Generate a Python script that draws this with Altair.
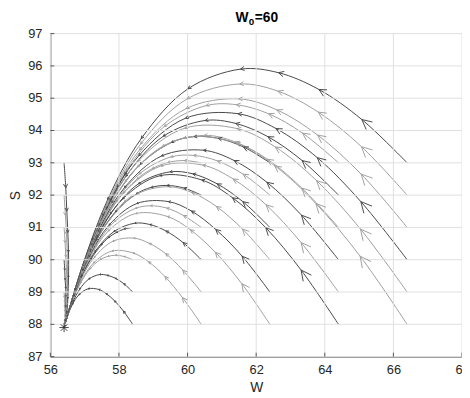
import math
import altair as alt
import pandas as pd

# sampling instants along each trajectory (1 = start, 0 = equilibrium)
phase = [1.0, 0.9, 0.8, 0.7, 0.6, 0.45, 0.3, 0.18, 0.08, 0.0]

# trajectories starting at W0 = 58.4 (S0 = 88 ... 93)
w_58 = [
    [58.4, 58.13, 57.87, 57.63, 57.41, 57.10, 56.83, 56.64, 56.50, 56.4],
    [58.4, 58.14, 57.89, 57.65, 57.43, 57.12, 56.85, 56.66, 56.51, 56.4],
    [58.4, 58.15, 57.90, 57.67, 57.45, 57.15, 56.87, 56.67, 56.52, 56.4],
    [58.4, 58.15, 57.92, 57.69, 57.48, 57.18, 56.89, 56.69, 56.52, 56.4],
    [58.4, 58.16, 57.94, 57.72, 57.50, 57.20, 56.92, 56.70, 56.53, 56.4],
    [58.4, 58.17, 57.95, 57.74, 57.53, 57.23, 56.94, 56.72, 56.54, 56.4],
]
s_58 = [
    [88.0, 88.41, 88.73, 88.95, 89.08, 89.10, 88.91, 88.61, 88.25, 87.9],
    [89.0, 89.26, 89.43, 89.52, 89.54, 89.40, 89.08, 88.70, 88.29, 87.9],
    [90.0, 90.10, 90.14, 90.10, 90.00, 89.71, 89.26, 88.79, 88.32, 87.9],
    [91.0, 90.95, 90.84, 90.68, 90.45, 90.01, 89.44, 88.88, 88.36, 87.9],
    [92.0, 91.80, 91.55, 91.25, 90.91, 90.31, 89.61, 88.98, 88.40, 87.9],
    [93.0, 92.64, 92.25, 91.83, 91.37, 90.62, 89.79, 89.07, 88.43, 87.9],
]
shade_58 = ["D", "D", "L", "D", "L", "D"]

# W0 = 60.4
w_60 = [
    [60.4, 59.85, 59.34, 58.86, 58.41, 57.80, 57.26, 56.88, 56.60, 56.4],
    [60.4, 59.86, 59.36, 58.88, 58.43, 57.82, 57.28, 56.89, 56.61, 56.4],
    [60.4, 59.87, 59.37, 58.90, 58.46, 57.85, 57.30, 56.91, 56.62, 56.4],
    [60.4, 59.88, 59.39, 58.92, 58.48, 57.87, 57.32, 56.92, 56.62, 56.4],
    [60.4, 59.89, 59.40, 58.94, 58.51, 57.90, 57.34, 56.94, 56.63, 56.4],
    [60.4, 59.90, 59.42, 58.97, 58.53, 57.92, 57.37, 56.95, 56.64, 56.4],
]
s_60 = [
    [88.0, 88.83, 89.48, 89.94, 90.21, 90.27, 89.90, 89.30, 88.60, 87.9],
    [89.0, 89.68, 90.19, 90.51, 90.67, 90.57, 90.07, 89.39, 88.63, 87.9],
    [90.0, 90.53, 90.89, 91.09, 91.13, 90.87, 90.25, 89.49, 88.67, 87.9],
    [91.0, 91.37, 91.60, 91.67, 91.59, 91.18, 90.43, 89.58, 88.71, 87.9],
    [92.0, 92.22, 92.30, 92.24, 92.04, 91.48, 90.60, 89.67, 88.74, 87.9],
    [93.0, 93.07, 93.01, 92.82, 92.50, 91.79, 90.78, 89.77, 88.78, 87.9],
]
shade_60 = ["L", "L", "D", "L", "D", "L"]

# W0 = 62.4
w_62 = [
    [62.4, 61.58, 60.81, 60.08, 59.41, 58.49, 57.69, 57.12, 56.70, 56.4],
    [62.4, 61.59, 60.82, 60.11, 59.44, 58.52, 57.71, 57.13, 56.71, 56.4],
    [62.4, 61.60, 60.84, 60.13, 59.46, 58.54, 57.73, 57.15, 56.71, 56.4],
    [62.4, 61.61, 60.86, 60.15, 59.49, 58.57, 57.75, 57.16, 56.72, 56.4],
    [62.4, 61.62, 60.87, 60.17, 59.51, 58.59, 57.77, 57.18, 56.73, 56.4],
    [62.4, 61.63, 60.89, 60.19, 59.53, 58.62, 57.79, 57.19, 56.74, 56.4],
]
s_62 = [
    [88.0, 89.26, 90.23, 90.93, 91.34, 91.43, 90.89, 90.00, 88.95, 87.9],
    [89.0, 90.11, 90.94, 91.51, 91.80, 91.74, 91.07, 90.09, 88.98, 87.9],
    [90.0, 90.95, 91.65, 92.08, 92.26, 92.04, 91.24, 90.18, 89.02, 87.9],
    [91.0, 91.80, 92.35, 92.66, 92.72, 92.35, 91.42, 90.28, 89.05, 87.9],
    [92.0, 92.65, 93.06, 93.23, 93.18, 92.65, 91.59, 90.37, 89.09, 87.9],
    [93.0, 93.49, 93.76, 93.81, 93.63, 92.95, 91.77, 90.46, 89.13, 87.9],
]
shade_62 = ["L", "D", "L", "D", "L", "D"]

# W0 = 64.4
w_64 = [
    [64.4, 63.31, 62.28, 61.31, 60.41, 59.19, 58.11, 57.36, 56.80, 56.4],
    [64.4, 63.31, 62.29, 61.33, 60.44, 59.22, 58.13, 57.37, 56.81, 56.4],
    [64.4, 63.32, 62.31, 61.36, 60.46, 59.24, 58.16, 57.39, 56.81, 56.4],
    [64.4, 63.33, 62.33, 61.38, 60.49, 59.27, 58.18, 57.40, 56.82, 56.4],
    [64.4, 63.34, 62.34, 61.40, 60.51, 59.29, 58.20, 57.42, 56.83, 56.4],
    [64.4, 63.35, 62.36, 61.42, 60.54, 59.32, 58.22, 57.43, 56.84, 56.4],
]
s_64 = [
    [88.0, 89.68, 90.99, 91.92, 92.47, 92.60, 91.88, 90.69, 89.29, 87.9],
    [89.0, 90.53, 91.70, 92.50, 92.93, 92.90, 92.06, 90.79, 89.33, 87.9],
    [90.0, 91.38, 92.40, 93.07, 93.39, 93.21, 92.23, 90.88, 89.37, 87.9],
    [91.0, 92.22, 93.11, 93.65, 93.85, 93.51, 92.41, 90.97, 89.40, 87.9],
    [92.0, 93.07, 93.81, 94.22, 94.31, 93.82, 92.58, 91.07, 89.44, 87.9],
    [93.0, 93.92, 94.52, 94.80, 94.77, 94.12, 92.76, 91.16, 89.48, 87.9],
]
shade_64 = ["D", "L", "D", "L", "D", "L"]

# W0 = 66.4
w_66 = [
    [66.4, 65.03, 63.74, 62.54, 61.42, 59.89, 58.54, 57.60, 56.90, 56.4],
    [66.4, 65.04, 63.76, 62.56, 61.44, 59.91, 58.56, 57.61, 56.91, 56.4],
    [66.4, 65.05, 63.78, 62.58, 61.47, 59.94, 58.58, 57.63, 56.91, 56.4],
    [66.4, 65.06, 63.79, 62.60, 61.49, 59.96, 58.60, 57.64, 56.92, 56.4],
    [66.4, 65.07, 63.81, 62.63, 61.52, 59.99, 58.63, 57.66, 56.93, 56.4],
    [66.4, 65.08, 63.83, 62.65, 61.54, 60.01, 58.65, 57.67, 56.94, 56.4],
]
s_66 = [
    [88.0, 90.11, 91.74, 92.91, 93.61, 93.77, 92.87, 91.39, 89.64, 87.9],
    [89.0, 90.95, 92.45, 93.49, 94.06, 94.07, 93.05, 91.48, 89.68, 87.9],
    [90.0, 91.80, 93.16, 94.06, 94.52, 94.38, 93.22, 91.58, 89.71, 87.9],
    [91.0, 92.65, 93.86, 94.64, 94.98, 94.68, 93.40, 91.67, 89.75, 87.9],
    [92.0, 93.50, 94.57, 95.22, 95.44, 94.98, 93.58, 91.76, 89.79, 87.9],
    [93.0, 94.34, 95.27, 95.79, 95.90, 95.29, 93.75, 91.86, 89.82, 87.9],
]
shade_66 = ["L", "L", "D", "L", "L", "D"]

# W0 = 56.4 (nearly vertical descents)
w_56 = [
    [56.4, 56.41, 56.42, 56.42, 56.43, 56.43, 56.42, 56.42, 56.41, 56.4],
    [56.4, 56.42, 56.43, 56.45, 56.45, 56.45, 56.45, 56.43, 56.42, 56.4],
    [56.4, 56.43, 56.45, 56.47, 56.48, 56.48, 56.47, 56.45, 56.42, 56.4],
    [56.4, 56.44, 56.47, 56.49, 56.50, 56.50, 56.49, 56.46, 56.43, 56.4],
    [56.4, 56.45, 56.48, 56.51, 56.53, 56.53, 56.51, 56.48, 56.44, 56.4],
]
s_56 = [
    [89.0, 88.83, 88.68, 88.53, 88.40, 88.23, 88.09, 88.00, 87.94, 87.9],
    [90.0, 89.68, 89.38, 89.11, 88.86, 88.54, 88.27, 88.10, 87.98, 87.9],
    [91.0, 90.53, 90.09, 89.69, 89.32, 88.84, 88.45, 88.19, 88.01, 87.9],
    [92.0, 91.37, 90.79, 90.26, 89.78, 89.15, 88.62, 88.28, 88.05, 87.9],
    [93.0, 92.22, 91.50, 90.84, 90.24, 89.45, 88.80, 88.37, 88.09, 87.9],
]
shade_56 = ["L", "D", "L", "L", "D"]

eq_W = [56.4]
eq_S = [87.9]
x_ticks = [56, 58, 60, 62, 64, 66, 68]
y_ticks = [87, 88, 89, 90, 91, 92, 93, 94, 95, 96, 97]
title_main, title_sub, title_rest = ["W"], ["0"], ["=60"]

PLOT_W, PLOT_H = 418, 328
KX = PLOT_W / 12.0
KY = PLOT_H / 10.0

all_W = w_58 + w_60 + w_62 + w_64 + w_66 + w_56
all_S = s_58 + s_60 + s_62 + s_64 + s_66 + s_56
all_shade = shade_58 + shade_60 + shade_62 + shade_64 + shade_66 + shade_56

line_rows, arrow_rows = [], []
for i, (ws, ss) in enumerate(zip(all_W, all_S)):
    for k, (w, s) in enumerate(zip(ws, ss)):
        line_rows.append({"traj": i, "k": k, "W": w, "S": s, "shade": all_shade[i]})
    for k in range(1, 8):
        dxp = (ws[k + 1] - ws[k - 1]) * KX
        dyp = -(ss[k + 1] - ss[k - 1]) * KY
        dist = math.hypot(dxp, dyp)
        dt = math.log(phase[k - 1] / phase[k + 1])
        h = max(1.6, min(11.0, 0.019 * dist / dt))
        ang = math.degrees(math.atan2(dyp, dxp)) % 360
        arrow_rows.append({"W": ws[k], "S": ss[k], "angle": ang,
                           "size": 4 * h * h, "shade": all_shade[i]})

lines = pd.DataFrame(line_rows)
arrows = pd.DataFrame(arrow_rows)
eq = pd.DataFrame({"W": eq_W, "S": eq_S})
xt = pd.DataFrame({"t": x_ticks})
yt = pd.DataFrame({"t": y_ticks})

FONT = "Liberation Sans"
TXT = "#262626"
AXC = "#555555"
GRID = "#dfdfdf"
color_scale = alt.Scale(domain=["D", "L"], range=["#474747", "#9e9e9e"])
xs = alt.Scale(domain=[56, 68], nice=False, zero=False)
ys = alt.Scale(domain=[87, 97], nice=False, zero=False)

x_enc = alt.X("W:Q", scale=xs,
              axis=alt.Axis(values=x_ticks, title="W", grid=False, ticks=False, tickSize=0,
                            labelPadding=7, titlePadding=4, format="d",
                            labelFlush=False, labelOverlap=False))
y_enc = alt.Y("S:Q", scale=ys,
              axis=alt.Axis(values=y_ticks, title="S", grid=False, ticks=False, tickSize=0,
                            labels=False, titlePadding=28))

# grid lines (MATLAB style light grid)
xgrid = alt.Chart(xt).mark_rule(color=GRID, strokeWidth=1).encode(
    x=alt.X("t:Q", scale=xs, axis=None), y=alt.value(0), y2=alt.value(PLOT_H)
)
ygrid = alt.Chart(yt).mark_rule(color=GRID, strokeWidth=1).encode(
    y=alt.Y("t:Q", scale=ys, axis=None), x=alt.value(0), x2=alt.value(PLOT_W)
)

line_layer = alt.Chart(lines).mark_line(
    interpolate="catmull-rom", strokeWidth=1.0
).encode(
    x=x_enc, y=y_enc,
    detail="traj:N",
    order=alt.Order("k:Q"),
    color=alt.Color("shade:N", scale=color_scale, legend=None),
)

CHEVRON = "M -1 -0.5 L 0 0 L -1 0.5"
arrow_layer = alt.Chart(arrows).mark_point(
    shape=CHEVRON, filled=False, strokeWidth=0.9, opacity=1
).encode(
    x=alt.X("W:Q", scale=xs, axis=None), y=alt.Y("S:Q", scale=ys, axis=None),
    angle=alt.Angle("angle:Q", scale=None),
    size=alt.Size("size:Q", scale=None),
    color=alt.Color("shade:N", scale=color_scale, legend=None),
)

ASTER = "M -1 0 L 1 0 M 0 -1 L 0 1 M -0.7 -0.7 L 0.7 0.7 M -0.7 0.7 L 0.7 -0.7"
eq_layer = alt.Chart(eq).mark_point(
    shape=ASTER, filled=False, size=90, strokeWidth=0.9, color="#333333", opacity=1
).encode(x=alt.X("W:Q", scale=xs, axis=None), y=alt.Y("S:Q", scale=ys, axis=None))

# small inward tick marks
xtick_layer = alt.Chart(xt).mark_rule(color=AXC, strokeWidth=1).encode(
    x=alt.X("t:Q", scale=xs, axis=None), y=alt.value(PLOT_H), y2=alt.value(PLOT_H - 4)
)
ytick_layer = alt.Chart(yt).mark_rule(color=AXC, strokeWidth=1).encode(
    y=alt.Y("t:Q", scale=ys, axis=None), x=alt.value(0), x2=alt.value(4)
)

# y tick labels
ylabels = alt.Chart(yt).mark_text(
    align="right", baseline="middle", font=FONT, fontSize=13, color=TXT, dx=-8
).encode(
    y=alt.Y("t:Q", scale=ys, axis=None), x=alt.value(0), text=alt.Text("t:Q", format="d")
)

# title "W" with subscript "0", then "=60"
T_LEFT, T_BASE = 188, -12
t1 = alt.Chart(pd.DataFrame({"t": title_main})).mark_text(
    align="left", baseline="alphabetic", font=FONT, fontSize=14, fontWeight="bold", color="#000000"
).encode(text="t:N", x=alt.value(T_LEFT), y=alt.value(T_BASE))
t2 = alt.Chart(pd.DataFrame({"t": title_sub})).mark_text(
    align="left", baseline="alphabetic", font=FONT, fontSize=10, fontWeight="bold", color="#000000"
).encode(text="t:N", x=alt.value(T_LEFT + 13.5), y=alt.value(T_BASE + 3.5))
t3 = alt.Chart(pd.DataFrame({"t": title_rest})).mark_text(
    align="left", baseline="alphabetic", font=FONT, fontSize=14, fontWeight="bold", color="#000000"
).encode(text="t:N", x=alt.value(T_LEFT + 19.5), y=alt.value(T_BASE))

chart = alt.layer(
    line_layer, xgrid, ygrid, arrow_layer, eq_layer, xtick_layer, ytick_layer, ylabels,
    t1, t2, t3
).resolve_axis(x="independent", y="independent").properties(
    width=PLOT_W, height=PLOT_H,
    padding={"left": 43, "top": 23, "right": 0, "bottom": 39},
    autosize=alt.AutoSizeParams(type="none"),
).configure_view(strokeWidth=0).configure_axis(
    labelFont=FONT, titleFont=FONT, labelFontSize=13, titleFontSize=14,
    labelColor=TXT, titleColor=TXT, titleFontWeight="normal",
    domainColor=AXC, domainWidth=1,
)

chart.save("out.html", embed_options={"renderer": "svg", "actions": False})
